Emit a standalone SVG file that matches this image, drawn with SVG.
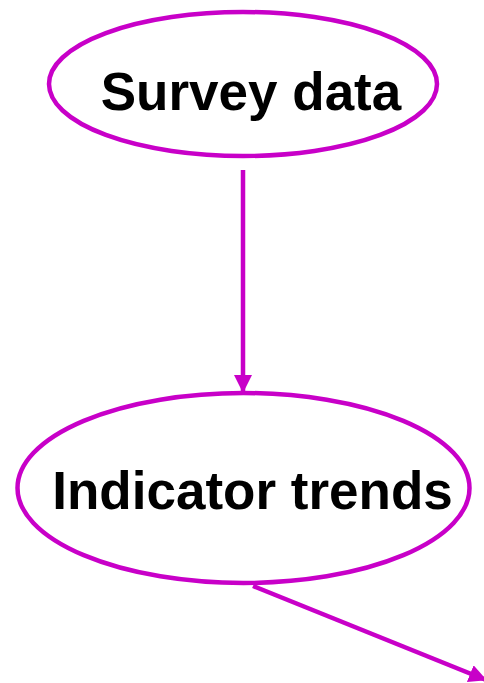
<svg xmlns="http://www.w3.org/2000/svg" width="484" height="683" viewBox="0 0 484 683">
<style>
.node{fill:#fff;stroke:#c800c8;stroke-width:4.5}
.lbl{font-family:"Liberation Sans",Arial,sans-serif;font-weight:bold;font-size:53px;fill:#000;text-anchor:middle}
.edge{stroke:#c800c8;stroke-width:4.5;fill:none}
</style>
<defs>
<marker id="ah" markerUnits="userSpaceOnUse" markerWidth="18" markerHeight="18" viewBox="0 0 18 18" refX="17" refY="9" orient="auto">
<path d="M0,0 L18,9 L0,18 Z" fill="#c800c8"/>
</marker>
</defs>
<g id="connectors">
<line class="edge" x1="243" y1="170" x2="243" y2="392" marker-end="url(#ah)"/>
<line class="edge" x1="253" y1="586" x2="486" y2="680" marker-end="url(#ah)"/>
</g>
<g id="survey">
<ellipse class="node" cx="243" cy="84" rx="194" ry="72"/>
<text class="lbl" x="251" y="110">Survey data</text>
</g>
<g id="indicator">
<ellipse class="node" cx="243.5" cy="488" rx="226" ry="95"/>
<text class="lbl" x="252.5" y="509">Indicator trends</text>
</g>
</svg>
